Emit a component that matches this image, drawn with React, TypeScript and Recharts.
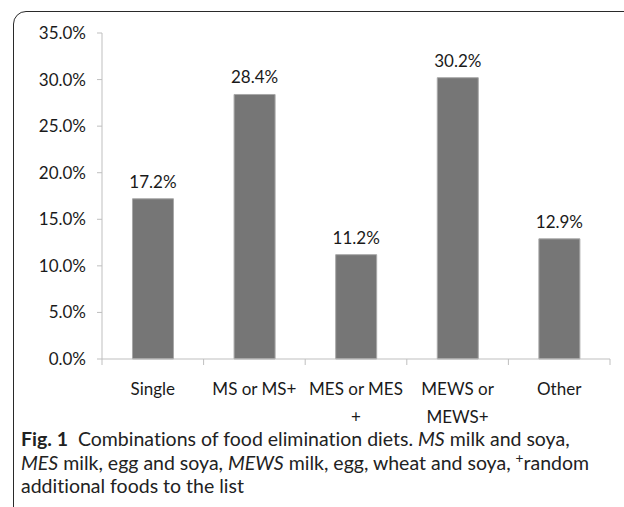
import React from "react";
import { BarChart, Bar, XAxis, YAxis, LabelList } from "recharts";

const categories = ["Single", "MS or MS+", "MES or MES +", "MEWS or MEWS+", "Other"];
const tickLines = [["Single"], ["MS or MS+"], ["MES or MES", "+"], ["MEWS or", "MEWS+"], ["Other"]];
const values = [17.2, 28.4, 11.2, 30.2, 12.9];
const yTicks = [0, 5, 10, 15, 20, 25, 30, 35];

const data = categories.map((c, i) => ({ name: c, value: values[i] }));

const FONT = "Lato, 'Open Sans', sans-serif";
const TEXT = "#1a1a1a";
const AXIS = "#bfbfbf";

const CatTick = (props: any) => {
  const { x, y, payload, index } = props;
  const idx = categories.indexOf(payload.value);
  const lines = idx >= 0 ? tickLines[idx] : [String(payload.value)];
  const half = typeof payload.offset === "number" ? payload.offset : 0;
  const axisY = y - 8;
  return (
    <g>
      <line x1={x - half} x2={x - half} y1={axisY} y2={axisY + 6} stroke={AXIS} />
      {index === categories.length - 1 && (
        <line x1={x + half} x2={x + half} y1={axisY} y2={axisY + 6} stroke={AXIS} />
      )}
      {lines.map((l, i) => (
        <text
          key={i}
          x={x}
          y={y + 28 + i * 28}
          textAnchor="middle"
          fontFamily={FONT}
          fontSize={17}
          fill={TEXT}
        >
          {l}
        </text>
      ))}
    </g>
  );
};

export default function App() {
  return (
    <div
      style={{
        position: "absolute",
        left: 0,
        top: 0,
        width: 624,
        height: 507,
        overflow: "hidden",
        background: "#fff",
      }}
    >
      <div
        style={{
          position: "absolute",
          left: 13,
          top: 11,
          width: 640,
          height: 520,
          border: "1px solid #2a2a2a",
          borderTopLeftRadius: 13,
          boxSizing: "border-box",
        }}
      />
      <div style={{ position: "absolute", left: 0, top: 0 }}>
        <BarChart
          width={624}
          height={440}
          data={data}
          margin={{ top: 33, right: 14, left: 0, bottom: 0 }}
          barCategoryGap="30%"
        >
          <XAxis
            dataKey="name"
            height={81}
            axisLine={{ stroke: AXIS }}
            tickLine={false}
            interval={0}
            tick={<CatTick />}
          />
          <YAxis
            width={102}
            domain={[0, 35]}
            ticks={yTicks}
            tickSize={5}
            tickMargin={11}
            axisLine={{ stroke: AXIS }}
            tickLine={{ stroke: AXIS }}
            tickFormatter={(v: number) => v.toFixed(1) + "%"}
            tick={{ fontFamily: FONT, fontSize: 17, fill: TEXT }}
          />
          <Bar dataKey="value" fill="#767676" stroke="#a8a8a8" strokeWidth={1} isAnimationActive={false}>
            <LabelList
              dataKey="value"
              position="top"
              offset={11}
              formatter={(v: number) => v.toFixed(1) + "%"}
              style={{ fontFamily: FONT, fontSize: 17, fill: TEXT }}
            />
          </Bar>
        </BarChart>
      </div>
      <div
        style={{
          position: "absolute",
          left: 21,
          top: 427,
          fontFamily: FONT,
          fontSize: 19.5,
          lineHeight: "23.5px",
          color: "#222",
          whiteSpace: "nowrap",
          fontVariantLigatures: "none",
        }}
      >
        <div>
          <b>Fig. 1</b>&nbsp;&nbsp;Combinations of food elimination diets. <i>MS</i> milk and soya,
        </div>
        <div>
          <i>MES</i> milk, egg and soya, <i>MEWS</i> milk, egg, wheat and soya,{" "}
          <span style={{ fontSize: "0.7em", lineHeight: 0, position: "relative", top: "-0.5em" }}>+</span>random
        </div>
        <div>additional foods to the list</div>
      </div>
    </div>
  );
}
